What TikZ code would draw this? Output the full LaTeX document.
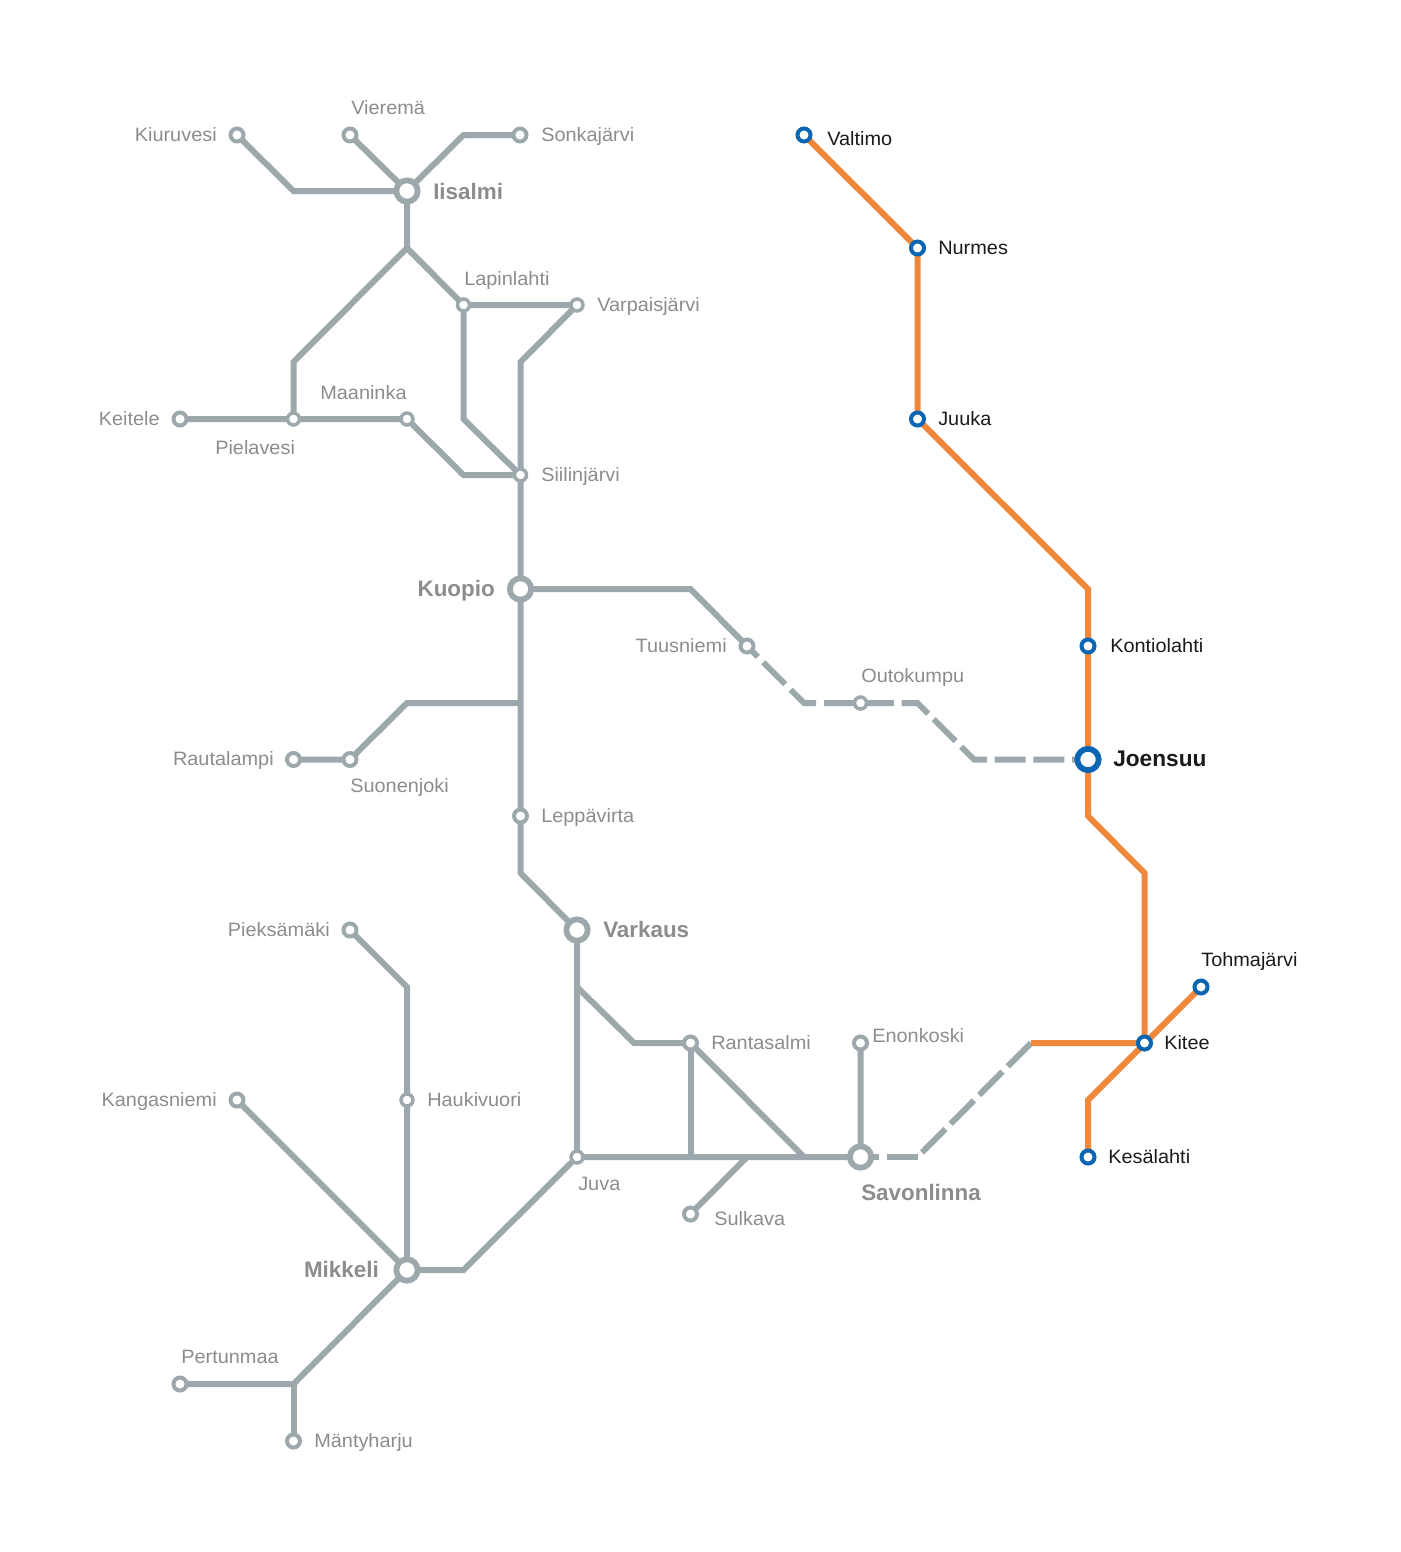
\documentclass[tikz,border=0pt]{standalone}
\usepackage{fontspec}
\setmainfont{Liberation Sans}
\newfontfamily\lblfont{Liberation Sans}[FakeStretch=1.03]
\usetikzlibrary{backgrounds}
\definecolor{railgrey}{HTML}{9DA8AC}
\definecolor{railorange}{HTML}{F0883C}
\definecolor{railblue}{HTML}{0A66B2}
\definecolor{labgrey}{HTML}{8C8C8C}
\definecolor{labdark}{HTML}{1A1A1A}
\tikzset{
  stn/.style={circle,inner sep=0pt,minimum size=9.75pt,line width=3pt,draw=railgrey,fill=white},
  stnsmall/.style={stn,minimum size=9pt,line width=2.6pt},
  hub/.style={circle,inner sep=0pt,minimum size=16pt,line width=4.3pt,draw=railgrey,fill=white},
  bstn/.style={stn,draw=railblue},
  bhub/.style={hub,draw=railblue},
  grey line/.style={line width=4.5pt,draw=railgrey,line join=miter},
  orange line/.style={line width=4.5pt,draw=railorange,line join=miter},
  dash a/.style={grey line,dash pattern=on 23.25pt off 5.85pt,dash phase=11.85pt},
  dash b/.style={grey line,dash pattern=on 23.25pt off 5.85pt,dash phase=9.6pt},
  dash c/.style={grey line,dash pattern=on 24.75pt off 5.6pt},
  lab/.style={inner sep=0pt,text=labgrey,font=\lblfont\fontsize{14.5pt}{16pt}\selectfont},
  labb/.style={inner sep=0pt,text=labgrey,font=\fontsize{16.8pt}{20pt}\selectfont\bfseries},
  dlab/.style={lab,text=labdark},
  dlabb/.style={labb,text=labdark,font=\fontsize{17pt}{20pt}\selectfont\bfseries}
}
\begin{document}
\begin{tikzpicture}[x=0.75pt,y=-0.75pt]
\useasboundingbox (0,0) rectangle (1400,1552);
% stations
\node[stn] (kiuruvesi) at (237,135) {};
\node[stn] (vierema) at (350,135) {};
\node[hub] (iisalmi) at (407,191) {};
\node[stn] (sonkajarvi) at (520,135) {};
\node[stnsmall] (lapinlahti) at (463.5,305) {};
\node[stnsmall] (varpaisjarvi) at (577,305) {};
\node[stn] (keitele) at (180,419) {};
\node[stnsmall] (pielavesi) at (293.5,419) {};
\node[stnsmall] (maaninka) at (407,419) {};
\node[stnsmall] (siilinjarvi) at (520.5,475) {};
\node[hub] (kuopio) at (520.5,589) {};
\node[stn] (tuusniemi) at (747,646) {};
\node[stnsmall] (outokumpu) at (860.5,703) {};
\node[bhub] (joensuu) at (1088,759.5) {};
\node[stn] (rautalampi) at (293.5,759.5) {};
\node[stn] (suonenjoki) at (350,759.5) {};
\node[stn] (leppavirta) at (520.5,816) {};
\node[hub] (varkaus) at (577,930) {};
\node[stn] (pieksamaki) at (350,930) {};
\node[stnsmall] (haukivuori) at (407,1100) {};
\node[stn] (kangasniemi) at (237,1100) {};
\node[hub] (mikkeli) at (407,1270) {};
\node[stnsmall] (juva) at (577,1157) {};
\node[stn] (rantasalmi) at (690.5,1043) {};
\node[stn] (sulkava) at (690.5,1214) {};
\node[stn] (enonkoski) at (860.5,1043) {};
\node[hub] (savonlinna) at (860.5,1157) {};
\node[stn] (pertunmaa) at (180,1384) {};
\node[stn] (mantyharju) at (293.5,1441) {};
\node[bstn] (valtimo) at (804,135) {};
\node[bstn] (nurmes) at (917.5,248) {};
\node[bstn] (juuka) at (917.5,419) {};
\node[bstn] (kontiolahti) at (1088,646) {};
\node[bstn] (kitee) at (1144.5,1043) {};
\node[bstn] (tohmajarvi) at (1201,987) {};
\node[bstn] (kesalahti) at (1088,1157) {};
% junctions
\coordinate (j1) at (293.5,191);
\coordinate (j2) at (463.5,135);
\coordinate (j3) at (407,248);
\coordinate (j4) at (293.5,362);
\coordinate (j5) at (463.5,419);
\coordinate (j6) at (463.5,475);
\coordinate (j7) at (520.5,362);
\coordinate (j8) at (690.5,589);
\coordinate (j9) at (804,703);
\coordinate (j10) at (917.5,703);
\coordinate (j11) at (974,759.5);
\coordinate (j12) at (520.5,703);
\coordinate (j13) at (407,703);
\coordinate (j14) at (520.5,873);
\coordinate (j15) at (577,987);
\coordinate (j16) at (634,1043);
\coordinate (j17) at (804,1157);
\coordinate (j18) at (690.5,1157);
\coordinate (j19) at (747,1157);
\coordinate (j20) at (917.5,1157);
\coordinate (j21) at (1031,1043);
\coordinate (j22) at (463.5,1270);
\coordinate (j23) at (407,987);
\coordinate (j24) at (293.5,1384);
\coordinate (j25) at (1088,589);
\coordinate (j26) at (1088,816);
\coordinate (j27) at (1144.5,873);
\coordinate (j28) at (1088,1100);
\begin{scope}[on background layer]
\draw[grey line] (kiuruvesi.center) -- (j1) -- (iisalmi.center);
\draw[grey line] (vierema.center) -- (iisalmi.center);
\draw[grey line] (iisalmi.center) -- (j2) -- (sonkajarvi.center);
\draw[grey line] (iisalmi.center) -- (j3) -- (lapinlahti.center) -- (varpaisjarvi.center) -- (j7) -- (siilinjarvi.center);
\draw[grey line] (j3) -- (j4) -- (pielavesi.center);
\draw[grey line] (lapinlahti.center) -- (j5) -- (siilinjarvi.center);
\draw[grey line] (keitele.center) -- (maaninka.center) -- (j6) -- (siilinjarvi.center) -- (kuopio.center);
\draw[grey line] (kuopio.center) -- (j8) -- (tuusniemi.center);
\draw[dash a] (tuusniemi.center) -- (j9) -- (outokumpu.center) -- (j10) -- (j11) -- (joensuu.center);
\draw[grey line] (kuopio.center) -- (leppavirta.center) -- (j14) -- (varkaus.center) -- (juva.center);
\draw[grey line] (j12) -- (j13) -- (suonenjoki.center) -- (rautalampi.center);
\draw[grey line] (j15) -- (j16) -- (rantasalmi.center) -- (j17);
\draw[grey line] (rantasalmi.center) -- (j18);
\draw[grey line] (mikkeli.center) -- (j22) -- (juva.center) -- (savonlinna.center) -- (enonkoski.center);
\draw[grey line] (j19) -- (sulkava.center);
\draw[dash b] (savonlinna.center) -- (j20);
\draw[dash c] (j21) -- (j20);
\draw[grey line] (pieksamaki.center) -- (j23) -- (mikkeli.center);
\draw[grey line] (kangasniemi.center) -- (mikkeli.center);
\draw[grey line] (mikkeli.center) -- (j24) -- (pertunmaa.center);
\draw[grey line] (j24) -- (mantyharju.center);
\draw[orange line] (valtimo.center) -- (nurmes.center) -- (juuka.center) -- (j25) -- (j26) -- (j27) -- (kitee.center) -- (j21);
\draw[orange line] (tohmajarvi.center) -- (j28) -- (kesalahti.center);
\end{scope}
% labels
\node[lab,anchor=base east] (l1) at (217,141) {Kiuruvesi};
\node[lab,anchor=base west] (l2) at (351,114) {Vieremä};
\node[labb,anchor=base west] (l3) at (433,199) {Iisalmi};
\node[lab,anchor=base west] (l4) at (541,141) {Sonkajärvi};
\node[lab,anchor=base west] (l5) at (464,285) {Lapinlahti};
\node[lab,anchor=base west] (l6) at (597,311) {Varpaisjärvi};
\node[lab,anchor=base west] (l7) at (320,399) {Maaninka};
\node[lab,anchor=base east] (l8) at (160,425) {Keitele};
\node[lab,anchor=base west] (l9) at (215,454) {Pielavesi};
\node[lab,anchor=base west] (l10) at (541,481) {Siilinjärvi};
\node[labb,anchor=base east] (l11) at (495,596) {Kuopio};
\node[lab,anchor=base east] (l12) at (727,652) {Tuusniemi};
\node[lab,anchor=base west] (l13) at (861,682) {Outokumpu};
\node[dlab,anchor=base west] (l14) at (1110,652) {Kontiolahti};
\node[dlabb,anchor=base west] (l15) at (1113,766) {Joensuu};
\node[lab,anchor=base east] (l16) at (274,765) {Rautalampi};
\node[lab,anchor=base west] (l17) at (350,792) {Suonenjoki};
\node[lab,anchor=base west] (l18) at (541,822) {Leppävirta};
\node[labb,anchor=base west] (l19) at (603,937) {Varkaus};
\node[lab,anchor=base east] (l20) at (330,936) {Pieksämäki};
\node[lab,anchor=base west] (l21) at (427,1106) {Haukivuori};
\node[lab,anchor=base east] (l22) at (217,1106) {Kangasniemi};
\node[lab,anchor=base west] (l23) at (711,1049) {Rantasalmi};
\node[lab,anchor=base west] (l24) at (872,1042) {Enonkoski};
\node[lab,anchor=base west] (l25) at (578,1190) {Juva};
\node[lab,anchor=base west] (l26) at (714,1225) {Sulkava};
\node[labb,anchor=base west] (l27) at (861,1200) {Savonlinna};
\node[labb,anchor=base east] (l28) at (379,1277) {Mikkeli};
\node[lab,anchor=base west] (l29) at (181,1363) {Pertunmaa};
\node[lab,anchor=base west] (l30) at (314,1447) {Mäntyharju};
\node[dlab,anchor=base west] (l31) at (827,145) {Valtimo};
\node[dlab,anchor=base west] (l32) at (938,254) {Nurmes};
\node[dlab,anchor=base west] (l33) at (938,425) {Juuka};
\node[dlab,anchor=base west] (l34) at (1201,966) {Tohmajärvi};
\node[dlab,anchor=base west] (l35) at (1164,1049) {Kitee};
\node[dlab,anchor=base west] (l36) at (1108,1163) {Kesälahti};
\end{tikzpicture}
\end{document}
